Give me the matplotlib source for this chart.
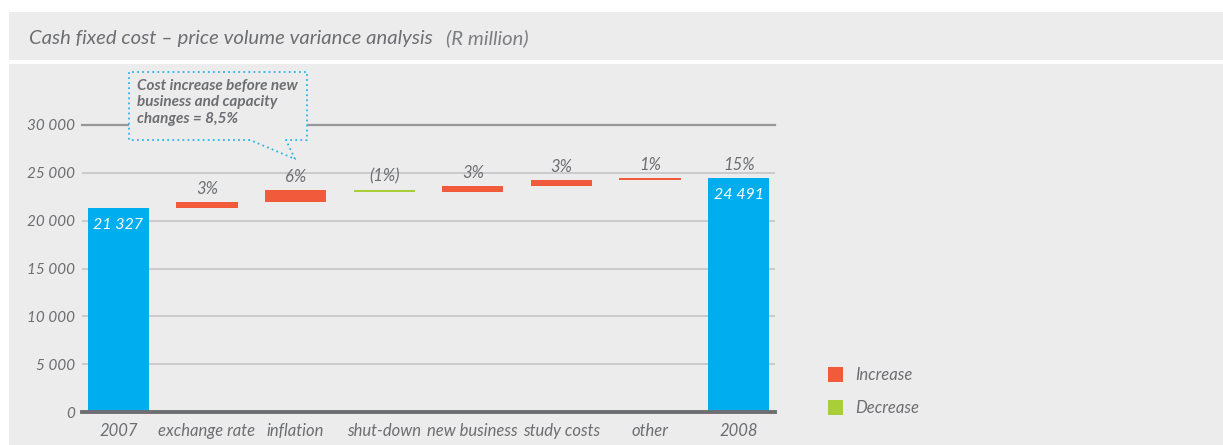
import numpy as np
import matplotlib
matplotlib.use("Agg")
import matplotlib.pyplot as plt
from matplotlib.patches import Rectangle, Polygon
from matplotlib.lines import Line2D

# waterfall data (R million)
categories = ["2007", "exchange rate", "inflation", "shut-down",
              "new business", "study costs", "other", "2008"]
start_value = 21327
end_value = 24491
changes = [640, 1250, -210, 650, 620, 214]
change_labels = ["3%", "6%", "(1%)", "3%", "3%", "1%"]
total_label = "15%"
y_ticks = [0, 5000, 10000, 15000, 20000, 25000, 30000]
y_tick_labels = ["0", "5 000", "10 000", "15 000", "20 000", "25 000", "30 000"]

BLUE = "#00aeef"
RED = "#f15a3a"
GREEN = "#a8cf38"
GREY_TEXT = "#6d6e71"
BG = "#ececec"
CYAN = "#29b6e8"
FONT = "Lato"

W, H = 1223, 445
plt.rcParams["font.family"] = [FONT, "DejaVu Sans"]


def fx(px):
    return px / W


def fy(py):
    return 1 - py / H


fig = plt.figure(figsize=(W / 100, H / 100), dpi=100, facecolor="white")

# background panels
fig.patches.append(Rectangle((fx(9), fy(60)), fx(W) - fx(9), fy(12) - fy(60),
                             transform=fig.transFigure, facecolor=BG,
                             edgecolor="none", zorder=-2))
fig.patches.append(Rectangle((fx(9), 0), fx(W) - fx(9), fy(64),
                             transform=fig.transFigure, facecolor=BG,
                             edgecolor="none", zorder=-2))

fig.text(fx(29), fy(44), "Cash fixed cost \u2013 price volume variance analysis",
         style="italic", fontsize=14.6, color=GREY_TEXT, va="baseline")
fig.text(fx(446), fy(44), "(R million)", style="italic",
         fontsize=14.6, color="#7d7e81", va="baseline")

ax = fig.add_axes([fx(82), fy(412), fx(775) - fx(82), fy(125) - fy(412)])
ax.set_zorder(1)
ax.set_facecolor("none")
ax.set_xlim(-0.41, 7.41)
ax.set_ylim(0, 30000)
for s in ax.spines.values():
    s.set_visible(False)

for t in y_ticks[1:-1]:
    ax.axhline(t, color="#c8c8ca", lw=1.3, zorder=0)
ax.axhline(30000, color="#98989a", lw=1.6, zorder=0, clip_on=False)
ax.axhline(0, color=GREY_TEXT, lw=2.8, zorder=3, clip_on=False)

x = np.arange(len(categories))
width = 0.69

# totals
ax.bar(x[0], start_value, width, color=BLUE, zorder=2)
ax.bar(x[-1], end_value, width, color=BLUE, zorder=2)

# floating change bars
running = start_value
tops = []
for i, d in enumerate(changes):
    bottom = running if d > 0 else running + d
    ax.bar(x[i + 1], abs(d), width, bottom=bottom,
           color=RED if d > 0 else GREEN, zorder=2)
    running += d
    tops.append(max(running, running - d))

for i, lab in enumerate(change_labels):
    ax.annotate(lab, (x[i + 1], tops[i]), xytext=(0, 8), textcoords="offset pixels",
                ha="center", va="baseline", style="italic", fontsize=12,
                color=GREY_TEXT)
ax.annotate(total_label, (x[-1], end_value), xytext=(0, 8), textcoords="offset pixels",
            ha="center", va="baseline", style="italic", fontsize=12, color=GREY_TEXT)

for xi, val in [(x[0], start_value), (x[-1], end_value)]:
    ax.annotate(f"{val:,}".replace(",", " "), (xi, val), xytext=(0, -21),
                textcoords="offset pixels", ha="center", va="baseline",
                style="italic", fontsize=11.5, color="white", zorder=4)

ax.set_yticks(y_ticks)
ax.set_yticklabels(y_tick_labels, style="italic", fontsize=11, color=GREY_TEXT)
ax.set_xticks(x)
ax.set_xticklabels(categories, style="italic", fontsize=12, color=GREY_TEXT)
ax.tick_params(axis="y", length=0, pad=5)
ax.tick_params(axis="x", length=0, pad=8)

# callout box with pointer to the inflation label
pts = [(250, 140), (129, 140), (129, 72), (307, 72), (307, 140), (286, 140), (295, 159)]
fig.patches.append(Polygon([(fx(a), fy(b)) for a, b in pts], closed=True,
                           transform=fig.transFigure, facecolor=BG,
                           edgecolor="none", zorder=5))
open_pts = pts + [(250, 140)]
fig.lines.append(Line2D([fx(a) for a, b in open_pts], [fy(b) for a, b in open_pts],
                        transform=fig.transFigure, color=CYAN, lw=1.3,
                        linestyle=(0, (1, 1.8)), zorder=6))
fig.text(fx(137), fy(79), "Cost increase before new\nbusiness and capacity\nchanges = 8,5%",
         style="italic", fontweight="bold", fontsize=11, color=GREY_TEXT,
         va="top", linespacing=1.22, zorder=7)

# legend
for yy, col, lab in [(367, RED, "Increase"), (400, GREEN, "Decrease")]:
    fig.patches.append(Rectangle((fx(828), fy(yy + 15)), fx(15), 15 / H,
                                 transform=fig.transFigure, facecolor=col,
                                 edgecolor="none", zorder=3))
    fig.text(fx(855), fy(yy + 8), lab, style="italic", fontsize=12,
             color=GREY_TEXT, va="center")

fig.savefig("out.png", dpi=100, facecolor="white")
